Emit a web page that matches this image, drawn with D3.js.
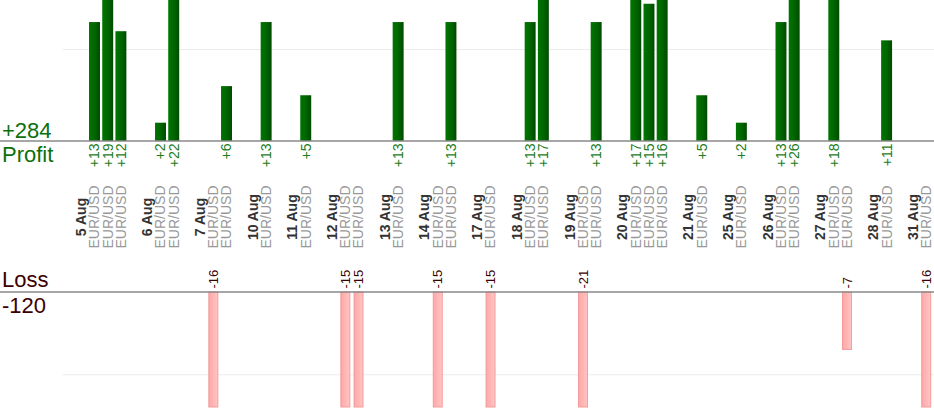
<!DOCTYPE html>
<html>
<head>
<meta charset="utf-8">
<script src="https://cdn.jsdelivr.net/npm/d3@7"></script>
<style>
  body { margin: 0; background: #fff; }
  svg { display: block; font-family: "Liberation Sans", Arial, sans-serif; }
</style>
</head>
<body>
<svg id="chart"></svg>
<script>
// trading days shown on the axis
const dayLabels = ["5 Aug", "6 Aug", "7 Aug", "10 Aug", "11 Aug", "12 Aug", "13 Aug", "14 Aug", "17 Aug",
  "18 Aug", "19 Aug", "20 Aug", "21 Aug", "25 Aug", "26 Aug", "27 Aug", "28 Aug", "31 Aug"];
// every trade: which day it belongs to, the pair and the result in pips
const tradeDay = [0, 0, 0, 1, 1, 2, 2, 3, 4, 5, 5, 6, 7, 7, 8, 9, 9, 10, 10, 11, 11, 11, 12, 13, 14, 14, 15, 15, 16, 17];
const tradeResult = [13, 19, 12, 2, 22, -16, 6, 13, 5, -15, -15, 13, -15, 13, -15, 13, 17, -21, 13, 17, 15, 16, 5, 2, 13, 26, 18, -7, 11, -16];
const tradeSymbol = tradeDay.map(() => "EUR/USD");
const profitGrid = [10];
const lossGrid = [10];

class TradeChart {
  constructor(_config) {
    this.config = {
      parentElement: _config.parentElement,
      containerWidth: _config.containerWidth || 934,
      containerHeight: _config.containerHeight || 420,
      plotLeft: 74.7,
      plotRight: 932.8,
      gridLeft: 63,
      profitBase: 141,
      lossBase: 292,
      lossBottom: 407.5
    }
    this.initVis();
  }

  initVis() {
    let vis = this;
    let c = vis.config;

    vis.svg = d3.select(c.parentElement)
      .attr('width', c.containerWidth)
      .attr('height', c.containerHeight);

    // one slot per date label, one per trade, one blank between days
    vis.slots = [];
    dayLabels.forEach((d, i) => {
      if (i > 0) vis.slots.push({ type: 'blank' });
      vis.slots.push({ type: 'date', label: d });
      tradeDay.forEach((t, j) => {
        if (t == i) vis.slots.push({ type: 'trade', value: tradeResult[j], symbol: tradeSymbol[j] });
      });
    });
    vis.slots.forEach((s, i) => s.idx = i);

    vis.x = d3.scaleBand()
      .domain(vis.slots.map(d => d.idx))
      .range([c.plotLeft, c.plotRight])
      .paddingInner(0.17)
      .paddingOuter(0.085);

    vis.yProfit = d3.scaleLinear()
      .domain([0, 15.41])
      .range([c.profitBase, 0])
      .clamp(true);

    vis.yLoss = d3.scaleLinear()
      .domain([0, 13.95])
      .range([c.lossBase, c.lossBottom])
      .clamp(true);

    let defs = vis.svg.append('defs');
    let g1 = defs.append('linearGradient').attr('id', 'profitFill');
    g1.append('stop').attr('offset', '0%').attr('stop-color', '#007600');
    g1.append('stop').attr('offset', '55%').attr('stop-color', '#006400');
    g1.append('stop').attr('offset', '100%').attr('stop-color', '#004a00');
    let g2 = defs.append('linearGradient').attr('id', 'lossFill');
    g2.append('stop').attr('offset', '0%').attr('stop-color', '#ffa6a6');
    g2.append('stop').attr('offset', '100%').attr('stop-color', '#ffc6c6');

    vis.updateVis();
  }

  updateVis() {
    let vis = this;
    let c = vis.config;
    let trades = vis.slots.filter(d => d.type == 'trade');
    let wins = trades.filter(d => d.value > 0);
    let losses = trades.filter(d => d.value < 0);
    let center = d => vis.x(d.idx) + vis.x.bandwidth() / 2;

    // gridlines
    vis.svg.append('g').selectAll('line')
      .data(profitGrid)
      .join('line')
      .attr('x1', c.gridLeft).attr('x2', c.containerWidth)
      .attr('y1', d => vis.yProfit(d)).attr('y2', d => vis.yProfit(d))
      .attr('stroke', '#ececec');
    vis.svg.append('g').selectAll('line')
      .data(lossGrid)
      .join('line')
      .attr('x1', c.gridLeft).attr('x2', c.containerWidth)
      .attr('y1', d => vis.yLoss(d)).attr('y2', d => vis.yLoss(d))
      .attr('stroke', '#ececec');

    // profit bars
    vis.svg.append('g').selectAll('rect')
      .data(wins)
      .join('rect')
      .attr('x', d => vis.x(d.idx))
      .attr('width', vis.x.bandwidth())
      .attr('y', d => vis.yProfit(d.value))
      .attr('height', d => c.profitBase - vis.yProfit(d.value))
      .attr('fill', 'url(#profitFill)');

    // loss bars
    vis.svg.append('g').selectAll('rect')
      .data(losses)
      .join('rect')
      .attr('x', d => vis.x(d.idx) + 1)
      .attr('width', vis.x.bandwidth() - 2)
      .attr('y', c.lossBase)
      .attr('height', d => vis.yLoss(-d.value) - c.lossBase - 0.5)
      .attr('fill', 'url(#lossFill)')
      .attr('stroke', '#f59a9a')
      .attr('stroke-width', 1);

    // baselines
    [c.profitBase, c.lossBase].forEach(y => {
      vis.svg.append('line')
        .attr('x1', 0).attr('x2', c.containerWidth)
        .attr('y1', y).attr('y2', y)
        .attr('stroke', '#888')
        .attr('stroke-width', 1.5);
    });

    // value labels
    vis.svg.append('g').selectAll('text')
      .data(wins)
      .join('text')
      .attr('transform', d => `translate(${center(d)},${c.profitBase + 2.5}) rotate(-90)`)
      .attr('dy', '0.35em')
      .style('text-anchor', 'end')
      .style('font-size', '14px')
      .style('fill', '#1c7c1c')
      .text(d => '+' + d.value);

    vis.svg.append('g').selectAll('text')
      .data(losses)
      .join('text')
      .attr('transform', d => `translate(${center(d)},${c.lossBase - 3.5}) rotate(-90)`)
      .attr('dy', '0.35em')
      .style('text-anchor', 'start')
      .style('font-size', '13px')
      .style('fill', '#3a0000')
      .text(d => d.value);

    // date + symbol labels
    vis.svg.append('g').selectAll('text')
      .data(vis.slots.filter(d => d.type != 'blank'))
      .join('text')
      .attr('transform', d => `translate(${center(d)},217) rotate(-90)`)
      .attr('dy', '0.35em')
      .style('text-anchor', 'middle')
      .style('font-size', '14px')
      .style('font-weight', d => d.type == 'date' ? 'bold' : 'normal')
      .style('fill', d => d.type == 'date' ? '#333' : '#999')
      .text(d => d.type == 'date' ? d.label : d.symbol);

    // totals on the left
    let totalWin = d3.sum(wins, d => d.value);
    let totalLoss = d3.sum(losses, d => d.value);
    vis.svg.append('text')
      .attr('x', 2).attr('y', 138)
      .style('font-size', '22px').style('fill', '#0c700c')
      .text('+' + totalWin);
    vis.svg.append('text')
      .attr('x', 2).attr('y', 162)
      .style('font-size', '22px').style('fill', '#0c700c')
      .text('Profit');
    vis.svg.append('text')
      .attr('x', 2).attr('y', 287)
      .style('font-size', '22px').style('fill', '#3a0000')
      .text('Loss');
    vis.svg.append('text')
      .attr('x', 2).attr('y', 313)
      .style('font-size', '22px').style('fill', '#3a0000')
      .text(totalLoss);
  }
}

new TradeChart({ parentElement: '#chart' });
</script>
</body>
</html>
